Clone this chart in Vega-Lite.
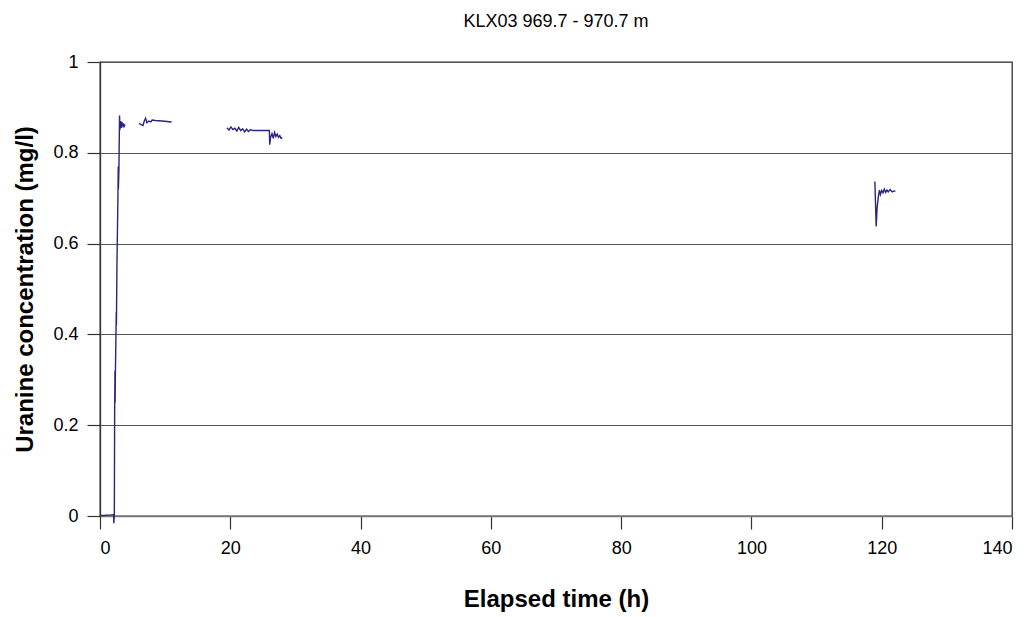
{
  "$schema": "https://vega.github.io/schema/vega-lite/v6.json",
  "width": 912,
  "height": 454,
  "autosize": "none",
  "padding": {"left": 100, "top": 62, "right": 14, "bottom": 101},
  "background": "white",
  "title": {"text": "KLX03 969.7 - 970.7 m", "font": "Liberation Sans", "fontSize": 18, "fontWeight": "normal", "color": "#000000", "anchor": "middle", "offset": 22},
  "config": {
    "view": {"stroke": "#333333", "strokeWidth": 1.3},
    "axis": {"labelFont": "Liberation Sans", "titleFont": "Liberation Sans", "labelColor": "#000000", "titleColor": "#000000", "labelFontSize": 18, "titleFontSize": 24, "titleFontWeight": "bold", "tickColor": "#333333", "domainColor": "#333333", "tickSize": 13, "domainWidth": 1.3, "tickWidth": 1.2}
  },
  "data": {"values": [
    {"seg": 1, "t": 0, "c": 0.001},
    {"seg": 1, "t": 0.5, "c": 0.001},
    {"seg": 1, "t": 1.0, "c": 0.002},
    {"seg": 1, "t": 1.5, "c": 0.002},
    {"seg": 1, "t": 2.0, "c": 0.003},
    {"seg": 1, "t": 2.1, "c": 0.004},
    {"seg": 1, "t": 2.12, "c": -0.016},
    {"seg": 1, "t": 2.2, "c": 0.0},
    {"seg": 1, "t": 2.25, "c": 0.233},
    {"seg": 1, "t": 2.3, "c": 0.32},
    {"seg": 1, "t": 2.32, "c": 0.25},
    {"seg": 1, "t": 2.35, "c": 0.30},
    {"seg": 1, "t": 2.45, "c": 0.40},
    {"seg": 1, "t": 2.5, "c": 0.45},
    {"seg": 1, "t": 2.52, "c": 0.42},
    {"seg": 1, "t": 2.6, "c": 0.55},
    {"seg": 1, "t": 2.75, "c": 0.70},
    {"seg": 1, "t": 2.8, "c": 0.77},
    {"seg": 1, "t": 2.82, "c": 0.72},
    {"seg": 1, "t": 2.9, "c": 0.76},
    {"seg": 1, "t": 3.0, "c": 0.882},
    {"seg": 1, "t": 3.05, "c": 0.85},
    {"seg": 1, "t": 3.15, "c": 0.87},
    {"seg": 1, "t": 3.25, "c": 0.855},
    {"seg": 1, "t": 3.35, "c": 0.868},
    {"seg": 1, "t": 3.5, "c": 0.86},
    {"seg": 1, "t": 3.6, "c": 0.865},
    {"seg": 1, "t": 3.7, "c": 0.858},
    {"seg": 1, "t": 3.85, "c": 0.862},
    {"seg": 2, "t": 6.0, "c": 0.865},
    {"seg": 2, "t": 6.3, "c": 0.862},
    {"seg": 2, "t": 6.6, "c": 0.860},
    {"seg": 2, "t": 6.8, "c": 0.870},
    {"seg": 2, "t": 7.0, "c": 0.876},
    {"seg": 2, "t": 7.2, "c": 0.866},
    {"seg": 2, "t": 7.5, "c": 0.870},
    {"seg": 2, "t": 7.8, "c": 0.868},
    {"seg": 2, "t": 8.0, "c": 0.872},
    {"seg": 2, "t": 8.5, "c": 0.871},
    {"seg": 2, "t": 9.5, "c": 0.870},
    {"seg": 2, "t": 11.0, "c": 0.868},
    {"seg": 3, "t": 19.5, "c": 0.855},
    {"seg": 3, "t": 19.8, "c": 0.850},
    {"seg": 3, "t": 20.1, "c": 0.857},
    {"seg": 3, "t": 20.4, "c": 0.851},
    {"seg": 3, "t": 20.7, "c": 0.854},
    {"seg": 3, "t": 21.0, "c": 0.848},
    {"seg": 3, "t": 21.3, "c": 0.856},
    {"seg": 3, "t": 21.6, "c": 0.849},
    {"seg": 3, "t": 21.9, "c": 0.853},
    {"seg": 3, "t": 22.2, "c": 0.846},
    {"seg": 3, "t": 22.5, "c": 0.852},
    {"seg": 3, "t": 22.8, "c": 0.847},
    {"seg": 3, "t": 23.1, "c": 0.851},
    {"seg": 3, "t": 23.5, "c": 0.849},
    {"seg": 3, "t": 26.0, "c": 0.849},
    {"seg": 3, "t": 26.05, "c": 0.818},
    {"seg": 3, "t": 26.2, "c": 0.835},
    {"seg": 3, "t": 26.4, "c": 0.842},
    {"seg": 3, "t": 26.6, "c": 0.832},
    {"seg": 3, "t": 26.8, "c": 0.845},
    {"seg": 3, "t": 27.0, "c": 0.836},
    {"seg": 3, "t": 27.2, "c": 0.841},
    {"seg": 3, "t": 27.4, "c": 0.834},
    {"seg": 3, "t": 27.6, "c": 0.838},
    {"seg": 3, "t": 27.8, "c": 0.832},
    {"seg": 3, "t": 28.0, "c": 0.833},
    {"seg": 4, "t": 118.95, "c": 0.737},
    {"seg": 4, "t": 119.15, "c": 0.638},
    {"seg": 4, "t": 119.3, "c": 0.68},
    {"seg": 4, "t": 119.5, "c": 0.705},
    {"seg": 4, "t": 119.65, "c": 0.718},
    {"seg": 4, "t": 119.8, "c": 0.708},
    {"seg": 4, "t": 120.0, "c": 0.717},
    {"seg": 4, "t": 120.2, "c": 0.712},
    {"seg": 4, "t": 120.4, "c": 0.72},
    {"seg": 4, "t": 120.6, "c": 0.713},
    {"seg": 4, "t": 120.8, "c": 0.718},
    {"seg": 4, "t": 121.0, "c": 0.714},
    {"seg": 4, "t": 121.3, "c": 0.719},
    {"seg": 4, "t": 121.6, "c": 0.714},
    {"seg": 4, "t": 121.9, "c": 0.716},
    {"seg": 4, "t": 122.1, "c": 0.715}
  ]},
  "mark": {"type": "line", "color": "#2a2482", "strokeWidth": 1.4, "clip": false},
  "encoding": {
    "detail": {"field": "seg", "type": "nominal"},
    "x": {"field": "t", "type": "quantitative", "sort": null,
      "scale": {"domain": [0, 140], "nice": false, "zero": false},
      "axis": {"title": "Elapsed time (h)", "values": [0, 20, 40, 60, 80, 100, 120, 140], "grid": false, "labelPadding": 10, "titlePadding": 30, "domainColor": "#777777"}},
    "y": {"field": "c", "type": "quantitative",
      "scale": {"domain": [0, 1], "nice": false, "zero": false},
      "axis": {"title": "Uranine concentration (mg/l)", "values": [0, 0.2, 0.4, 0.6, 0.8, 1], "format": "~g", "grid": true, "gridColor": "#555555", "gridWidth": 1.2, "labelPadding": 9, "titlePadding": 15}}
  }
}
